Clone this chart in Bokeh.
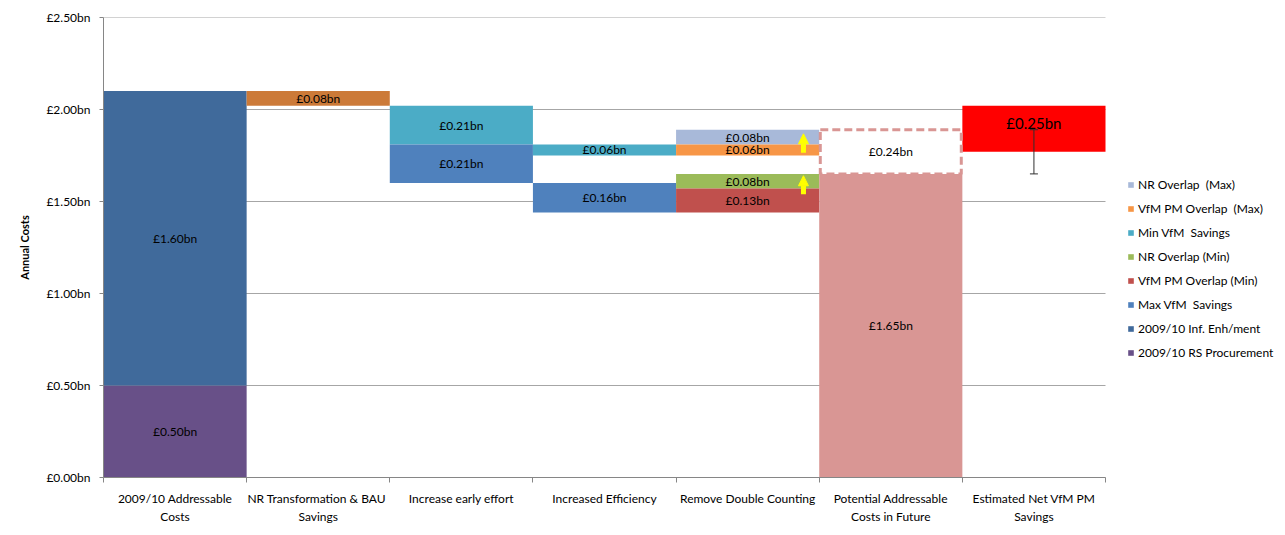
from bokeh.plotting import figure
from bokeh.models import (Range1d, FixedTicker, PrintfTickFormatter, ColumnDataSource,
                          Legend, LegendItem, Whisker, TeeHead, Arrow, NormalHead)
from bokeh.embed import file_html
from bokeh.resources import INLINE

# ---------------- data ----------------
categories = ["2009/10 Addressable\nCosts", "NR Transformation  & BAU\nSavings",
              "Increase early effort", "Increased Efficiency", "Remove Double Counting",
              "Potential Addressable\nCosts in Future", "Estimated Net VfM PM\nSavings"]

y_ticks = [0.0, 0.5, 1.0, 1.5, 2.0, 2.5]

legend_series = ["NR Overlap  (Max)", "VfM PM Overlap  (Max)", "Min VfM  Savings",
                 "NR Overlap (Min)", "VfM PM Overlap (Min)", "Max VfM  Savings",
                 "2009/10 Inf. Enh/ment", "2009/10 RS Procurement"]

series_colors = {
    "NR Overlap  (Max)": "#A8B9D9",
    "VfM PM Overlap  (Max)": "#F79646",
    "Min VfM  Savings": "#4BACC6",
    "NR Overlap (Min)": "#9BBB59",
    "VfM PM Overlap (Min)": "#C0504D",
    "Max VfM  Savings": "#4F81BD",
    "2009/10 Inf. Enh/ment": "#406A9B",
    "2009/10 RS Procurement": "#685088",
    "NR Transformation": "#CC7A38",
    "Potential Costs": "#D99694",
    "Net Savings": "#FF0000",
}

seg_category = [0, 0, 1, 2, 2, 3, 3, 4, 4, 4, 4, 5, 6]
seg_series = ["2009/10 RS Procurement", "2009/10 Inf. Enh/ment", "NR Transformation",
              "Min VfM  Savings", "Max VfM  Savings", "Min VfM  Savings", "Max VfM  Savings",
              "NR Overlap  (Max)", "VfM PM Overlap  (Max)", "NR Overlap (Min)",
              "VfM PM Overlap (Min)", "Potential Costs", "Net Savings"]
seg_bottom = [0.00, 0.50, 2.02, 1.81, 1.60, 1.75, 1.44, 1.81, 1.75, 1.57, 1.44, 0.00, 1.77]
seg_top = [0.50, 2.10, 2.10, 2.02, 1.81, 1.81, 1.60, 1.89, 1.81, 1.65, 1.57, 1.65, 2.02]
seg_label = ["£0.50bn", "£1.60bn", "£0.08bn", "£0.21bn", "£0.21bn", "£0.06bn", "£0.16bn",
             "£0.08bn", "£0.06bn", "£0.08bn", "£0.13bn", "£1.65bn", "£0.25bn"]

gap_category = [5]
gap_bottom = [1.65]
gap_top = [1.89]
gap_label = ["£0.24bn"]

err_category = [6]
err_lower = [1.65]
err_upper = [1.89]

FONT = "Lato"

# ---------------- figure ----------------
W, H = 1285, 535
LEFT, RIGHT_BORDER, TOP, BOTTOM = 103, 4, 17, 58
CAT_PX = 1002  # width in px of the 7 category columns
frame_w = W - LEFT - RIGHT_BORDER
n_cat = len(categories)
x_end = n_cat * frame_w / CAT_PX

p = figure(width=W, height=H, x_range=Range1d(0, x_end), y_range=Range1d(0, 2.5),
           output_backend="svg", toolbar_location=None,
           min_border_left=LEFT, min_border_right=RIGHT_BORDER,
           min_border_top=TOP, min_border_bottom=BOTTOM)
p.outline_line_color = None
p.background_fill_color = "white"
p.border_fill_color = "white"

# horizontal gridlines only across the category area
p.xgrid.visible = False
p.ygrid.visible = False
p.segment(x0=[0] * len(y_ticks), x1=[n_cat] * len(y_ticks), y0=y_ticks, y1=y_ticks,
          line_color="#A6A6A6", line_width=1, level="underlay")

x_center = [c + 0.5 for c in seg_category]
sizes = ["15px" if s == "Net Savings" else "12px" for s in seg_series]
label_y = [(b + t) / 2 if s != "Net Savings" else t for b, t, s in zip(seg_bottom, seg_top, seg_series)]
y_off = [17 if s == "Net Savings" else 0 for s in seg_series]

src = ColumnDataSource(dict(
    x=x_center, bottom=seg_bottom, top=seg_top,
    color=[series_colors[s] for s in seg_series], label=seg_label, series=seg_series,
    size=sizes, ly=label_y, yoff=y_off,
))

bars = p.vbar(x="x", width=1.0, bottom="bottom", top="top", source=src,
              fill_color="color", line_color=None)

# dashed gap box
gsrc = ColumnDataSource(dict(x=[c + 0.5 for c in gap_category], bottom=gap_bottom,
                             top=gap_top, label=gap_label,
                             ly=[(b + t) / 2 for b, t in zip(gap_bottom, gap_top)]))
p.vbar(x="x", width=0.985, bottom="bottom", top="top", source=gsrc,
       fill_color="white", line_color="#D99694", line_width=3, line_dash="8 4")
p.text(x="x", y="ly", text="label", source=gsrc, text_align="center",
       text_baseline="middle", text_font_size="12px", text_font={"value": FONT},
       text_color="#000000")

# segment labels
p.text(x="x", y="ly", text="label", source=src, text_align="center",
       text_baseline="middle", text_font_size="size", text_font={"value": FONT},
       text_color="#000000", y_offset="yoff")

# yellow arrows
for y0, y1 in [(1.765, 1.868), (1.540, 1.640)]:
    p.add_layout(Arrow(x_start=4.89, y_start=y0, x_end=4.89, y_end=y1,
                       line_color="#FFFF00", line_width=5, level="overlay",
                       end=NormalHead(size=10, fill_color="#FFFF00", line_color="#FFFF00")))

# error bar
esrc = ColumnDataSource(dict(x=[c + 0.5 for c in err_category], lower=err_lower, upper=err_upper))
p.add_layout(Whisker(base="x", lower="lower", upper="upper", source=esrc, dimension="height",
                     line_color="#303030", line_width=1, level="overlay",
                     upper_head=TeeHead(size=8, line_color="#303030"),
                     lower_head=TeeHead(size=8, line_color="#303030")))

# axes
ya = p.yaxis[0]
ya.ticker = FixedTicker(ticks=y_ticks)
ya.formatter = PrintfTickFormatter(format="£%.2fbn")
ya.axis_line_color = "#868686"
ya.major_tick_line_color = "#868686"
ya.major_tick_in = 0
ya.major_tick_out = 4
ya.minor_tick_line_color = None
ya.major_label_standoff = 9
ya.major_label_text_font = FONT
ya.major_label_text_font_size = "12px"
ya.major_label_text_color = "#000000"
ya.axis_label = "Annual Costs"
ya.axis_label_text_font = FONT
ya.axis_label_text_font_size = "11px"
ya.axis_label_text_font_style = "bold"
ya.axis_label_text_color = "#000000"
ya.axis_label_standoff = 12

xa = p.xaxis[0]
xa.bounds = (0, n_cat)
xa.ticker = FixedTicker(ticks=[i + 0.5 for i in range(n_cat)],
                        minor_ticks=list(range(n_cat + 1)))
xa.major_label_overrides = {i + 0.5: c for i, c in enumerate(categories)}
xa.axis_line_color = "#868686"
xa.major_tick_line_color = None
xa.major_tick_in = 0
xa.major_tick_out = 0
xa.minor_tick_line_color = "#868686"
xa.minor_tick_in = 0
xa.minor_tick_out = 5
xa.major_label_standoff = 8
xa.major_label_text_font = FONT
xa.major_label_text_font_size = "12px"
xa.major_label_text_color = "#000000"

# legend (inside the widened frame, right of the category columns)
items = []
for name in legend_series:
    idx = seg_series.index(name)
    items.append(LegendItem(label=name, renderers=[bars], index=idx))
legend = Legend(items=items, location=(1024, 117), padding=0, margin=0, spacing=9,
                label_height=14, glyph_height=7, glyph_width=7, label_standoff=4,
                label_text_font=FONT, label_text_font_size="12px",
                label_text_color="#000000", border_line_color=None,
                background_fill_alpha=0)
p.add_layout(legend)

open("out.html", "w").write(file_html(p, INLINE))
